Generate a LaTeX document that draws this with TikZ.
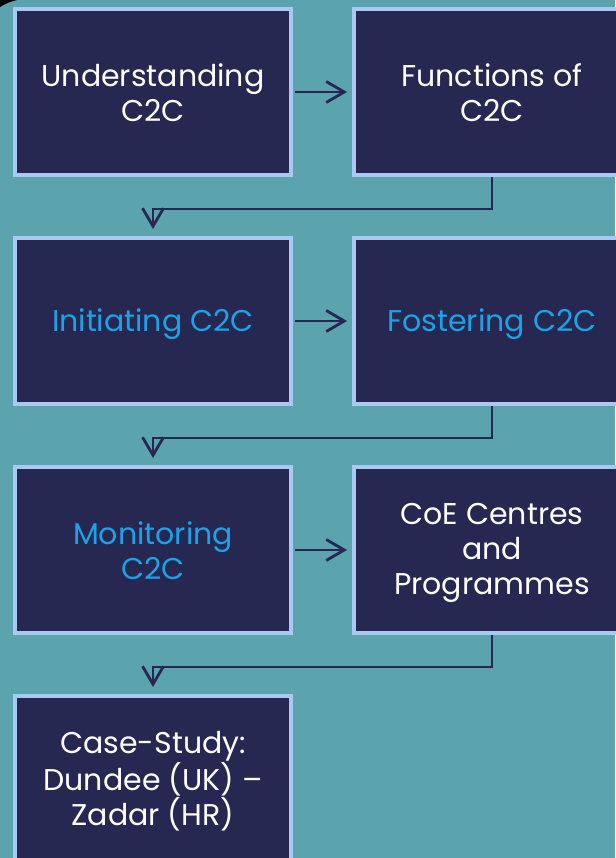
\documentclass[tikz,border=0pt]{standalone}
\usepackage{fontspec}
\setmainfont{Poppins}
\usetikzlibrary{arrows.meta}
\definecolor{bgteal}{HTML}{5BA3AD}
\definecolor{boxnavy}{HTML}{262851}
\definecolor{boxedge}{HTML}{A9C9F2}
\definecolor{textblue}{HTML}{1AA3E8}
\tikzset{
  stepbox/.style={draw=boxedge, fill=boxnavy, line width=4pt, minimum width=276pt, minimum height=166pt, inner sep=0pt},
  txt/.style={text=white, align=center, inner sep=0pt, font=\fontsize{30}{35}\selectfont},
  hl/.style={text=textblue},
  conn/.style={draw=boxnavy, line width=2.8pt, -{Straight Barb[length=18pt,width=21pt,line width=2.8pt]}},
}
\begin{document}
\begin{tikzpicture}[x=1pt,y=-1pt]
\useasboundingbox (0,0) rectangle (615,858);
\fill[bgteal] (0,0) rectangle (615,858);
\fill[black] (0,0) -- (17,0) .. controls (8,2.5) .. (0,7) -- cycle;
\node[stepbox] (b1) at (153,92) {};
\node[stepbox] (b2) at (492,92) {};
\node[stepbox] (b3) at (153,321) {};
\node[stepbox] (b4) at (492,321) {};
\node[stepbox] (b5) at (153,550) {};
\node[stepbox] (b6) at (492,550) {};
\node[stepbox] (b7) at (153,779) {};
\node[txt] (t1) at ([yshift=-1pt]b1.center) {Understanding\\C2C};
\node[txt] (t2) at ([yshift=-1pt]b2.center) {Functions of\\C2C};
\node[txt,hl] (t3) at ([yshift=-3pt]b3.center) {Initiating C2C};
\node[txt,hl] (t4) at ([yshift=-3pt]b4.center) {Fostering C2C};
\node[txt,hl] (t5) at ([yshift=-1pt]b5.center) {Monitoring\\C2C};
\node[txt] (t6) at ([yshift=-3pt]b6.center) {CoE Centres\\and\\Programmes};
\node[txt] (t7) at ([yshift=-2pt]b7.center) {Case-Study:\\Dundee (UK) --\\Zadar (HR)};
\draw[conn] (b1.east) ++(2pt,0) -- ([xshift=-5pt]b2.west);
\draw[conn] (b3.east) ++(2pt,0) -- ([xshift=-5pt]b4.west);
\draw[conn] (b5.east) ++(2pt,0) -- ([xshift=-5pt]b6.west);
\draw[conn] (b2.south) -- ++(0,32) -| ([yshift=7pt]b3.north);
\draw[conn] (b4.south) -- ++(0,32) -| ([yshift=7pt]b5.north);
\draw[conn] (b6.south) -- ++(0,32) -| ([yshift=7pt]b7.north);
\end{tikzpicture}
\end{document}
